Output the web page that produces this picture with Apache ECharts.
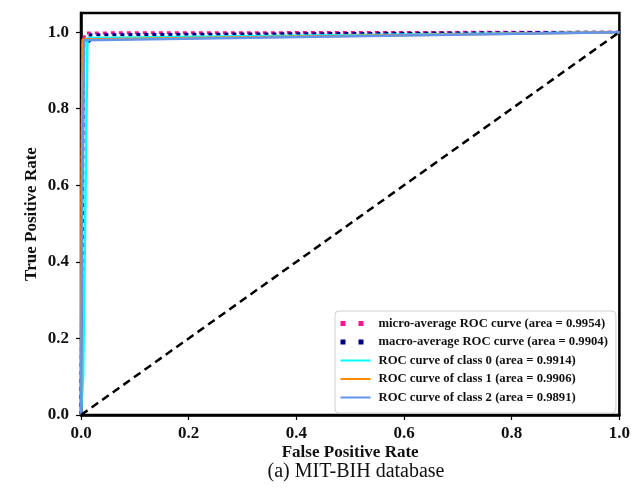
<!DOCTYPE html>
<html>
<head>
<meta charset="utf-8">
<script src="https://cdn.jsdelivr.net/npm/echarts@6/dist/echarts.min.js"></script>
<style>
    html, body { margin: 0; padding: 0; background: #fff; }
    #roc { width: 633px; height: 496px; }
</style>
</head>
<body>
<div id="roc"></div>
<script>
// ROC 曲线数据
var microFpr = [0, 0.003, 0.008, 1.0];
var microTpr = [0, 0.97, 0.998, 1.0];

var macroFpr = [0, 0.005, 0.016, 0.017, 1.0];
var macroTpr = [0, 0.975, 0.976, 0.993, 1.0];

var class0Fpr = [0, 0.004, 0.012, 0.014, 1.0];
var class0Tpr = [0, 0.1, 0.985, 0.99, 1.0];

var class1Fpr = [0, 0.001, 0.003, 1.0];
var class1Tpr = [0, 0.6, 0.981, 1.0];

var class2Fpr = [0, 0.002, 0.006, 1.0];
var class2Tpr = [0, 0.5, 0.979, 1.0];

var chanceFpr = [0, 1];
var chanceTpr = [0, 1];

var seriesNames = [
    'micro-average ROC curve (area = 0.9954)',
    'macro-average ROC curve (area = 0.9904)',
    'ROC curve of class 0 (area = 0.9914)',
    'ROC curve of class 1 (area = 0.9906)',
    'ROC curve of class 2 (area = 0.9891)'
];

var tickValues = [0, 0.2, 0.4, 0.6, 0.8, 1.0];

function pairs(xs, ys) {
    var out = [];
    for (var i = 0; i < xs.length; i++) {
        out.push([xs[i], ys[i]]);
    }
    return out;
}

(function () {

    var chart = echarts.init(document.getElementById('roc'));
    var serif = 'Liberation Serif';

    function lineSeries(name, data, color, width, dash) {
        return {
            name: name,
            type: 'line',
            data: data,
            symbol: 'none',
            silent: true,
            animation: false,
            lineStyle: {
                color: color,
                width: width,
                type: dash || 'solid'
            },
            itemStyle: { color: color }
        };
    }

    var axisCommon = {
        type: 'value',
        min: 0,
        nameLocation: 'middle',
        nameMoveOverlap: false,
        nameTextStyle: {
            fontFamily: serif,
            fontWeight: 'bold',
            fontSize: 17,
            color: '#111'
        },
        axisLine: {
            show: true,
            lineStyle: { color: '#000', width: 2.5 }
        },
        axisTick: {
            show: true,
            inside: false,
            length: 5,
            lineStyle: { color: '#000', width: 1.2 },
            customValues: tickValues
        },
        axisLabel: {
            fontFamily: serif,
            fontWeight: 'bold',
            fontSize: 17,
            color: '#111',
            customValues: tickValues,
            formatter: function (v) { return v.toFixed(1); }
        },
        splitLine: { show: false }
    };

    var option = {
        backgroundColor: '#fff',
        animation: false,
        title: {
            text: '(a) MIT-BIH database',
            left: 351,
            top: 457,
            textAlign: 'center',
            textStyle: {
                fontFamily: serif,
                fontWeight: 'normal',
                fontSize: 20,
                color: '#111'
            }
        },
        grid: {
            left: 81,
            right: 11,
            top: 13,
            bottom: 81,
            show: true,
            borderColor: '#000',
            borderWidth: 2.5,
            backgroundColor: '#fff'
        },
        legend: {
            orient: 'vertical',
            left: 335,
            top: 311,
            itemWidth: 30,
            itemHeight: 12,
            itemGap: 5.5,
            padding: [6, 8, 9, 3],
            borderColor: '#cfcfcf',
            borderWidth: 1,
            borderRadius: 4,
            backgroundColor: 'rgba(255,255,255,0.85)',
            itemStyle: { opacity: 0 },
            textStyle: {
                fontFamily: serif,
                fontWeight: 'bold',
                fontSize: 12.7,
                color: '#111',
                padding: [0, 0, 0, 3]
            },
            data: [
                { name: seriesNames[0], lineStyle: { type: [5, 13], width: 5 } },
                { name: seriesNames[1], lineStyle: { type: [5, 13], width: 5 } },
                { name: seriesNames[2] },
                { name: seriesNames[3] },
                { name: seriesNames[4] }
            ]
        },
        xAxis: Object.assign({}, axisCommon, {
            max: 1.0,
            name: 'False Positive Rate',
            nameGap: 29,
            axisLabel: Object.assign({}, axisCommon.axisLabel, { margin: 10 })
        }),
        yAxis: Object.assign({}, axisCommon, {
            max: 1.05,
            name: 'True Positive Rate',
            nameGap: 41,
            axisLabel: Object.assign({}, axisCommon.axisLabel, { margin: 12 })
        }),
        series: [
            lineSeries(seriesNames[0], pairs(microFpr, microTpr), '#ff1493', 3, [4, 4]),
            lineSeries(seriesNames[1], pairs(macroFpr, macroTpr), '#000080', 3, [4, 4]),
            lineSeries(seriesNames[2], pairs(class0Fpr, class0Tpr), '#00ffff', 2.5),
            lineSeries(seriesNames[3], pairs(class1Fpr, class1Tpr), '#ff8c00', 2.5),
            lineSeries(seriesNames[4], pairs(class2Fpr, class2Tpr), '#6495ed', 2.5),
            lineSeries('chance', pairs(chanceFpr, chanceTpr), '#000', 2.5, [8, 5])
        ]
    };

    chart.setOption(option);
})();
</script>
</body>
</html>
